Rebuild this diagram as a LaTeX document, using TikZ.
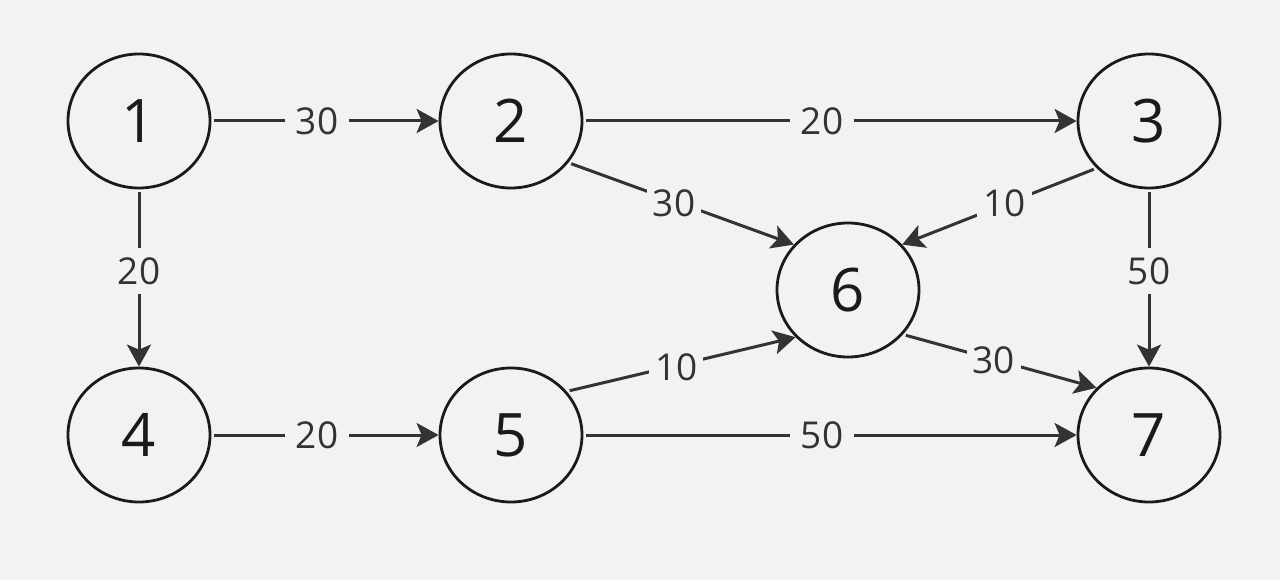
\documentclass[tikz,border=0pt]{standalone}
\usepackage{fontspec}
\setmainfont{Open Sans}
\usetikzlibrary{shapes.geometric,arrows.meta}
\definecolor{bgray}{HTML}{F2F2F2}
\definecolor{lgray}{HTML}{333333}
\definecolor{ngray}{HTML}{1A1A1A}
\tikzset{
  vertex/.style={ellipse,draw=ngray,line width=2.8pt,minimum width=142pt,minimum height=134pt,inner sep=0pt,text=ngray,font=\fontsize{60}{62}\selectfont},
  edge/.style={draw=lgray,line width=3pt,-{Stealth[length=22pt,width=24pt,inset=5pt]},shorten <=3pt},
  weight/.style={fill=bgray,text=lgray,inner xsep=11pt,inner ysep=2pt,font=\fontsize{37}{40}\selectfont}
}
\begin{document}
\begin{tikzpicture}[x=1pt,y=-1pt]
   \fill [bgray] (0,0) rectangle (1280,580);
   \useasboundingbox (0,0) rectangle (1280,580);
   \node [vertex] (v1) at (139,121) {1};
   \node [vertex] (v2) at (511,121) {2};
   \node [vertex] (v3) at (1149,121) {3};
   \node [vertex] (v4) at (139,435) {4};
   \node [vertex] (v5) at (511,435) {5};
   \node [vertex] (v6) at (848,290) {6};
   \node [vertex] (v7) at (1149,435) {7};
   \draw [edge] (v1.east) -- node [weight,xshift=-8pt] {30} (v2.west);
   \draw [edge] (v2.east) -- node [weight,xshift=-8pt] {20} (v3.west);
   \draw [edge] (v4.east) -- node [weight,xshift=-8pt] {20} (v5.west);
   \draw [edge] (v5.east) -- node [weight,xshift=-8pt] {50} (v7.west);
   \draw [edge] (v1.south) -- node [weight,yshift=7pt,inner xsep=2pt,inner ysep=9pt] {20} (v4.north);
   \draw [edge] (v3.south) -- node [weight,yshift=7pt,inner xsep=2pt,inner ysep=9pt] {50} (v7.north);
   \draw [edge] (v2.-36) -- node [weight,inner xsep=6pt,xshift=-7pt] {30} (v6.140);
   \draw [edge] (v3.-138) -- node [weight,inner xsep=6pt,xshift=5pt,yshift=3pt] {10} (v6.40);
   \draw [edge] (v5.38) -- node [weight,inner xsep=6pt,xshift=-5pt,yshift=-3pt] {10} (v6.-138);
   \draw [edge] (v6.-39) -- node [weight,inner xsep=6pt,xshift=-6pt,yshift=1pt] {30} (v7.138);
  \end{tikzpicture}
\end{document}
